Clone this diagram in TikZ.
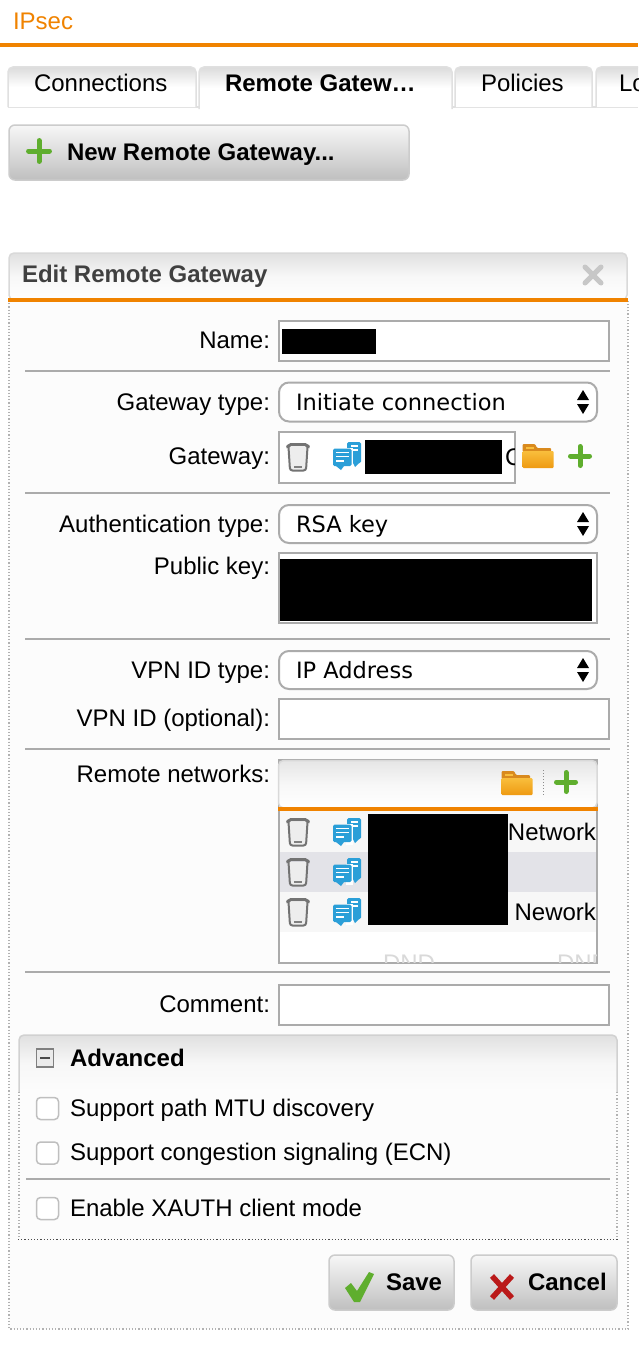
\documentclass[tikz,border=0pt]{standalone}
\usepackage{fontspec}
\setmainfont{Liberation Sans}
\newfontfamily\menufont{DejaVu Sans}
\newcommand{\uisize}{\fontsize{24}{28}\selectfont}
\usetikzlibrary{positioning}
\definecolor{brandorange}{HTML}{F08300}
\definecolor{fieldgray}{HTML}{ABABAB}
\definecolor{paneltone}{HTML}{FCFCFC}
\definecolor{rowtone}{HTML}{E3E3E8}
\definecolor{rowlight}{HTML}{F7F7F7}
\definecolor{iconblue}{HTML}{2B9FD8}
\definecolor{icongreen}{HTML}{5FAE2E}
\definecolor{foldertop}{HTML}{D98A1E}
\definecolor{folderlight}{HTML}{F9BE3C}
\definecolor{folderdark}{HTML}{EE9A12}
\tikzset{
	x=1pt, y=-1pt,
	every node/.style={font=\uisize, inner sep=0pt, outer sep=0pt},
	fieldlabel/.style={anchor=base east}, % the texts in front of the fields
	plaintext/.style={anchor=base west},
	boldtext/.style={anchor=base west, font=\uisize\bfseries},
	menutext/.style={anchor=base west, font=\menufont\fontsize{22.5}{26}\selectfont},
	inputbox/.style={draw=fieldgray, line width=2pt, fill=white, anchor=north west},
	selectbox/.style={inputbox, rounded corners=10pt},
	tabbox/.style={draw=black!12, line width=1.5pt, rounded corners=5pt, top color=black!14, bottom color=white, middle color=white},
	pushbutton/.style={draw=black!20, line width=1.5pt, rounded corners=6pt, top color=black!3, middle color=black!5, bottom color=black!25},
	redacted/.style={fill=black, anchor=north west},
	separator/.style={draw=fieldgray, line width=2pt},
	dotline/.style={draw=black!45, line width=1.2pt, dotted},
	checkbox/.style={draw=black!25, line width=1.5pt, fill=white, rounded corners=4pt, anchor=north west, minimum width=22pt, minimum height=22pt},
	trashicon/.pic={
		\draw[black!55, line width=2pt, rounded corners=2.5pt, fill=black!7] (-9.5,-10) -- (-8,13.5) -- (8,13.5) -- (9.5,-10);
		\draw[black!55, line width=3pt, line cap=round, rounded corners=2pt] (-10.5,-10) -- (-9,-12.5) -- (9,-12.5) -- (10.5,-10);
		\draw[black!50, line width=2pt] (-4,9.5) -- (4,9.5);
	},
	servericon/.pic={
		\fill[iconblue, rounded corners=1.5pt] (0,-14) rectangle (14,7);
		\draw[white, line width=1.2pt] (4,-10) -- (11,-10) (4,-6) -- (11,-6);
		\fill[white] (-1.5,-8.5) rectangle (5.5,12.5);
		\fill[iconblue, rounded corners=1.5pt] (-14,-7.5) rectangle (4.5,10);
		\fill[iconblue] (-11,10) -- (-3,10) -- (-6,14) -- cycle;
		\draw[white, line width=1.2pt] (-11,-3.5) -- (1.5,-3.5) (-11,.5) -- (1.5,.5) (-11,5) -- (-3,5);
		\fill[iconblue] (6,7) -- (12,7) -- (8,11) -- cycle;
	},
	foldericon/.pic={
		\fill[foldertop, rounded corners=1pt] (-15.5,-12) -- (-3,-12) -- (-1,-8) -- (13,-8) -- (13,-4) -- (-15.5,-4) -- cycle;
		\draw[folderlight, line width=1.5pt] (-12,-8) -- (-4,-8);
		\shade[top color=folderlight, bottom color=folderdark, rounded corners=1pt] (-15.5,-5) rectangle (15.5,12);
	},
	plusicon/.pic={
		\draw[icongreen, line width=5pt, line cap=round] (-9.5,0) -- (9.5,0) (0,-9.5) -- (0,9.5);
	},
	selectarrows/.pic={
		\fill (-6,-2) -- (6,-2) -- (0,-12) -- cycle;
		\fill (-6,2) -- (6,2) -- (0,12) -- cycle;
	},
}

\begin{document}
\begin{tikzpicture}
	\useasboundingbox (0,0) rectangle (638,1346);
	\fill[white] (0,0) rectangle (638,1346);
	% header and tabs
	\node[plaintext, text=brandorange] (title) at (13,30) {IPsec};
	\draw[brandorange, line width=4pt] (0,45.5) -- (638,45.5);
	\begin{scope}
		\clip (0,60) rectangle (638,112);
		\draw[draw=black!12, line width=1.5pt] (8,107) -- (638,107);
		\draw[tabbox] (8,107) -- (8,67) -- (196,67) -- (196,107);
		\draw[tabbox] (199,109) -- (199,67) -- (452,67) -- (452,109);
		\draw[tabbox] (455,107) -- (455,67) -- (592,67) -- (592,107);
		\draw[tabbox] (596,107) -- (596,67) -- (650,67) -- (650,107);
		\node[plaintext] (tablogs) at (619,92) {Lo};
	\end{scope}
	\node[plaintext] (tabconn) at (34,92) {Connections};
	\node[boldtext] (tabgate) at (225,92) {Remote Gatew…};
	\node[plaintext] (tabpol) at (481,92) {Policies};
	% new gateway button
	\node[pushbutton, anchor=north west, minimum width=400pt, minimum height=55pt] (newbutton) at (9,125) {};
	\pic[scale=1.1] at (39,151) {plusicon};
	\node[boldtext] (newtext) at (67,160) {New Remote Gateway...};
	% edit panel
	\fill[paneltone] (8,300) rectangle (628,1329);
	\draw[dotline, black!30] (9,300) -- (9,1329) -- (628,1329) -- (628,300);
	\draw[draw=black!15, line width=1.5pt, rounded corners=5pt, top color=black!12, bottom color=white, middle color=white!97!black] (9,300) -- (9,253) -- (627,253) -- (627,300) -- cycle;
	\draw[brandorange, line width=4pt] (8,300) -- (628,300);
	\node[boldtext, text=black!75] (edittitle) at (22,282) {Edit Remote Gateway};
	\draw[black!22, line width=5pt, line cap=round] (585,267) -- (601,283) (601,267) -- (585,283);
	% name
	\node[fieldlabel] (namelabel) at (270,348) {Name:};
	\node[inputbox, minimum width=330pt, minimum height=40pt] (nameinput) at (279,321) {};
	\node[redacted, minimum width=94pt, minimum height=25pt] (namehide) at (282,329) {};
	\draw[separator] (25,371) -- (610,371);
	% gateway
	\node[fieldlabel] (typelabel) at (270,410) {Gateway type:};
	\node[selectbox, minimum width=318pt, minimum height=39pt] (typeselect) at (279,382.5) {};
	\node[menutext] (typetext) at (296,410) {Initiate connection};
	\pic at (583,402) {selectarrows};
	\node[fieldlabel] (gatelabel) at (270,464) {Gateway:};
	\node[inputbox, minimum width=236.5pt, minimum height=51pt] (gateinput) at (278.5,431.5) {};
	\pic at (298,457) {trashicon};
	\pic at (347,456) {servericon};
	\node[redacted, minimum width=137pt, minimum height=34pt] (gatehide) at (365,440) {};
	\begin{scope}
		\clip (503,435) rectangle (514.5,480);
		\node[plaintext] (gatetext) at (505,465) {C};
	\end{scope}
	\pic at (538,456) {foldericon};
	\pic at (580,456) {plusicon};
	\draw[separator] (25,493) -- (610,493);
	% authentication
	\node[fieldlabel] (authlabel) at (270,532) {Authentication type:};
	\node[selectbox, minimum width=318pt, minimum height=38pt] (authselect) at (279,505) {};
	\node[menutext] (authtext) at (296,532) {RSA key};
	\pic at (583,524) {selectarrows};
	\node[fieldlabel] (keylabel) at (270,574) {Public key:};
	\node[inputbox, minimum width=318pt, minimum height=70pt] (keyinput) at (278.5,553) {};
	\node[redacted, minimum width=312pt, minimum height=62pt] (keyhide) at (280,559) {};
	\draw[separator] (25,639) -- (610,639);
	% vpn id
	\node[fieldlabel] (vpnlabel) at (270,678) {VPN ID type:};
	\node[selectbox, minimum width=318pt, minimum height=38pt] (vpnselect) at (279,651) {};
	\node[menutext] (vpntext) at (296,678) {IP Address};
	\pic at (583,670) {selectarrows};
	\node[fieldlabel] (optlabel) at (270,726) {VPN ID (optional):};
	\node[inputbox, minimum width=330pt, minimum height=40pt] (optinput) at (279,699) {};
	\draw[separator] (25,749) -- (610,749);
	% remote networks
	\node[fieldlabel] (netlabel) at (270,782) {Remote networks:};
	\node[inputbox, minimum width=318pt, minimum height=203pt] (netbox) at (278.5,760) {};
	\draw[draw=black!15, line width=1.5pt, rounded corners=5pt, top color=black!10, bottom color=white, middle color=white!97!black] (278.5,808) -- (278.5,760.5) -- (597,760.5) -- (597,808) -- cycle;
	\fill[rowlight] (280,811) rectangle (596,852);
	\fill[rowtone] (280,852) rectangle (596,892);
	\fill[rowlight] (280,892) rectangle (596,932);
	\draw[brandorange, line width=4pt] (278,809) -- (597.5,809);
	\pic at (517,783) {foldericon};
	\draw[black!45, line width=1pt, dotted] (543,770) -- (543,796);
	\pic at (566,782) {plusicon};
	\foreach \rowy in {832,872,912} {
		\pic at (298,\rowy) {trashicon};
		\pic at (347,\rowy) {servericon};
	}
	\node[redacted, minimum width=140pt, minimum height=111pt] (nethide) at (368,814) {};
	\node[anchor=base east] (rowone) at (596,840) {Network};
	\node[anchor=base east] (rowthree) at (596,920) {Nework};
	\begin{scope}
		\clip (280,940) rectangle (596,962.5);
		\node[plaintext, text=black!15] (dndone) at (383,971) {DND};
		\node[plaintext, text=black!15] (dndtwo) at (557,971) {DND};
	\end{scope}
	\draw[separator] (25,972) -- (610,972);
	% comment
	\node[fieldlabel] (commentlabel) at (270,1012) {Comment:};
	\node[inputbox, minimum width=330pt, minimum height=40pt] (commentinput) at (279,985) {};
	% advanced
	\draw[draw=black!18, line width=1.5pt, rounded corners=5pt, top color=black!12, bottom color=paneltone, middle color=white!97!black] (19,1092) -- (19,1035) -- (617,1035) -- (617,1092);
	\draw[dotline, black!30] (19,1092) -- (19,1239) (617,1092) -- (617,1239);
	\node[draw=black!50, line width=1.5pt, fill=black!8, anchor=north west, minimum width=17pt, minimum height=18pt] (foldbox) at (36.5,1049) {};
	\draw[black!70, line width=2pt] (40,1058) -- (50,1058);
	\node[boldtext] (advtext) at (70,1066) {Advanced};
	\node[checkbox] (boxmtu) at (36.5,1097.5) {};
	\node[plaintext] (textmtu) at (70,1116) {Support path MTU discovery};
	\node[checkbox] (boxecn) at (36.5,1142) {};
	\node[plaintext] (textecn) at (70,1160) {Support congestion signaling (ECN)};
	\draw[separator] (26,1179) -- (610,1179);
	\node[checkbox] (boxxauth) at (36.5,1197.5) {};
	\node[plaintext] (textxauth) at (70,1216) {Enable XAUTH client mode};
	\draw[dotline, black!70] (18,1239.5) -- (618,1239.5);
	% save and cancel
	\node[pushbutton, anchor=north west, minimum width=125pt, minimum height=55pt] (savebutton) at (329,1255) {};
	\fill[icongreen] (345,1288) -- (351,1283) -- (357,1291) -- (369,1272) -- (374,1274) -- (360,1302) -- (354,1302) -- cycle;
	\node[boldtext] (savetext) at (386,1290) {Save};
	\node[pushbutton, anchor=north west, minimum width=146pt, minimum height=55pt] (cancelbutton) at (471,1255) {};
	\draw[red!70!black!90, line width=5.5pt] (492,1276) -- (512,1298) (512,1276) -- (492,1298);
	\node[boldtext] (canceltext) at (528,1290) {Cancel};
\end{tikzpicture}
\end{document}
